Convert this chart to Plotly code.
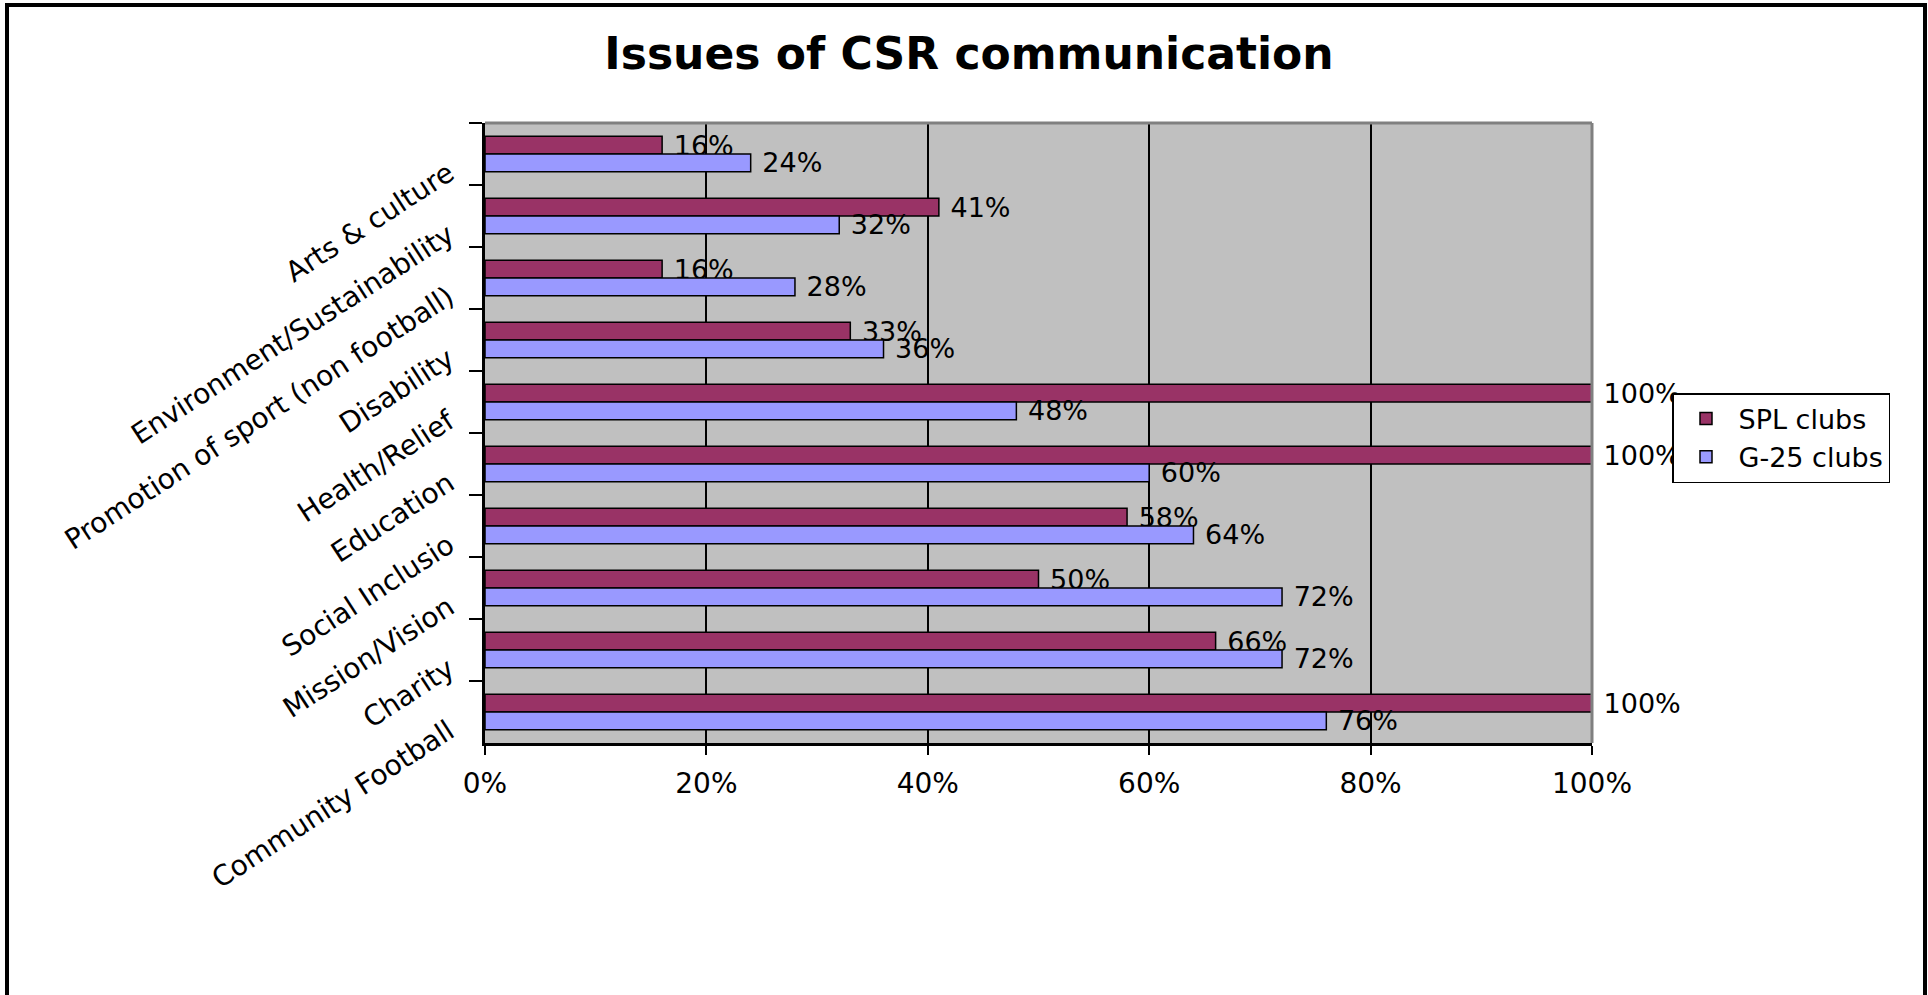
import plotly.graph_objects as go

# Data (top to bottom as shown in the chart)
categories = [
    "Arts & culture",
    "Environment/Sustainability",
    "Promotion of sport (non football)",
    "Disability",
    "Health/Relief",
    "Education",
    "Social Inclusio",
    "Mission/Vision",
    "Charity",
    "Community Football",
]
spl_clubs = [0.16, 0.41, 0.16, 0.33, 1.00, 1.00, 0.58, 0.50, 0.66, 1.00]
g25_clubs = [0.24, 0.32, 0.28, 0.36, 0.48, 0.60, 0.64, 0.72, 0.72, 0.76]
x_ticks = [0, 0.2, 0.4, 0.6, 0.8, 1.0]

FONT = "DejaVu Sans"
W, H = 1928, 995
L, R, T, B = 485, 1592, 123, 743  # plot area in pixels
PW, PH = R - L, B - T


def px_x(p):
    return (p - L) / PW


def px_y(p):
    return (B - p) / PH


fig = go.Figure()
fig.add_trace(go.Bar(
    name="SPL clubs", y=categories, x=spl_clubs, orientation="h",
    marker=dict(color="#993366", line=dict(color="black", width=1.5)),
    texttemplate="\u00a0%{x:.0%}", textposition="outside",
    textfont=dict(family=FONT, size=27, color="black"),
    constraintext="none", cliponaxis=False,
))
fig.add_trace(go.Bar(
    name="G-25 clubs", y=categories, x=g25_clubs, orientation="h",
    marker=dict(color="#9999FF", line=dict(color="black", width=1.5)),
    texttemplate="\u00a0%{x:.0%}", textposition="outside",
    textfont=dict(family=FONT, size=27, color="black"),
    constraintext="none", cliponaxis=False,
))

fig.update_layout(
    width=W, height=H,
    margin=dict(l=L, r=W - R, t=T, b=H - B, pad=0),
    paper_bgcolor="white", plot_bgcolor="#C0C0C0",
    barmode="group", bargap=0.43, bargroupgap=0,
    font=dict(family=FONT, color="black"),
    title=dict(text="<b>Issues of CSR communication</b>",
               font=dict(family=FONT, size=44, color="black"),
               x=969 / W, xanchor="center", y=1 - 54 / H, yanchor="middle"),
    legend=dict(x=px_x(1672), y=px_y(393), xanchor="left", yanchor="top",
                bgcolor="white", bordercolor="black", borderwidth=1.5,
                itemwidth=55,
                font=dict(family=FONT, size=27, color="black")),
    xaxis=dict(range=[0, 1], tickvals=x_ticks, tickformat=".0%",
               showgrid=True, gridcolor="black", gridwidth=2,
               zeroline=False, showline=True, linecolor="black", linewidth=2.5,
               ticks="outside", ticklen=9, tickwidth=2, tickcolor="black",
               ticklabelstandoff=5,
               tickfont=dict(family=FONT, size=28, color="black")),
    yaxis=dict(autorange="reversed", type="category",
               showgrid=False, zeroline=False,
               showline=True, linecolor="black", linewidth=2.5,
               ticks="outside", ticklen=13, tickwidth=2, tickcolor="black",
               tickson="boundaries", tickangle=-33,
               ticklabelstandoff=28, ticklabelshift=-16,
               tickfont=dict(family=FONT, size=28, color="black")),
    shapes=[
        # grey top and right border of the plot area
        dict(type="line", xref="paper", yref="paper", x0=0, x1=1, y0=1, y1=1,
             line=dict(color="#808080", width=3), layer="above"),
        dict(type="line", xref="paper", yref="paper", x0=1, x1=1, y0=0, y1=1,
             line=dict(color="#808080", width=3), layer="above"),
        # outer chart frame (left, top, right)
        dict(type="path", xref="paper", yref="paper",
             path=f"M {px_x(7)},{px_y(1010)} L {px_x(7)},{px_y(5)} "
                  f"L {px_x(1925)},{px_y(5)} L {px_x(1925)},{px_y(1010)}",
             line=dict(color="black", width=4), layer="above"),
    ],
)

fig.write_html("out.html", config={"displayModeBar": False},
               post_script="document.body.style.margin='0';document.body.style.overflow='hidden';")
